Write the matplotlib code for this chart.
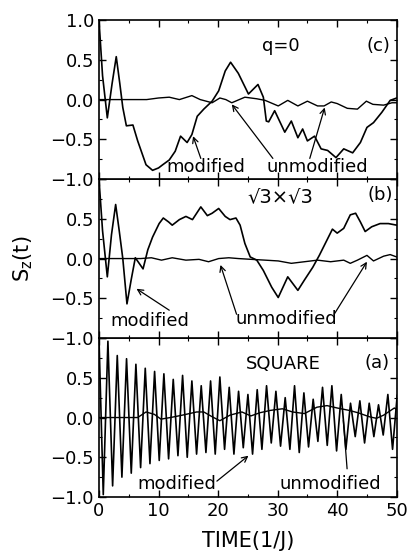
import matplotlib
matplotlib.use("Agg")
import matplotlib.pyplot as plt
from matplotlib.ticker import MultipleLocator, FuncFormatter

plt.rcParams["font.family"] = ["DejaVu Sans"]

# ---- panel (c): q=0 ----
c_mod_t = [0, 0.6, 1.4, 2.2, 2.9, 3.5, 4.0, 4.6, 5.7, 6.5, 7.9, 9.0, 10.0, 10.7,
           11.8, 12.8, 13.7, 14.8, 15.6, 16.5, 17.6, 19.0, 20.1, 21.2, 22.1, 23.4,
           25.1, 26.7, 27.6, 28.1, 28.5, 29.5, 31.2, 32.3, 33.4, 34.2, 35.0, 36.2,
           37.3, 38.4, 39.8, 41.1, 42.6, 43.9, 45.0, 46.1, 47.5, 48.9, 50.0]
c_mod_y = [1.0, 0.3, -0.23, 0.2, 0.54, 0.2, -0.1, -0.33, -0.32, -0.52, -0.82, -0.89,
           -0.86, -0.82, -0.76, -0.65, -0.46, -0.54, -0.44, -0.21, -0.12, -0.02, 0.11,
           0.36, 0.47, 0.33, 0.07, 0.19, 0.03, -0.27, -0.28, -0.14, -0.41, -0.27,
           -0.48, -0.37, -0.52, -0.46, -0.62, -0.64, -0.73, -0.62, -0.67, -0.54,
           -0.35, -0.29, -0.16, -0.01, 0.02]
c_unmod_t = [0, 8, 10, 11.8, 13.5, 15.6, 17, 19, 20.3, 21.3, 22.3, 24.5, 26.5, 27.9,
             30.1, 31.7, 33.4, 35.0, 36.7, 37.8, 39.0, 40.0, 41.7, 43.4, 44.9, 46.0,
             47.8, 49.2, 50]
c_unmod_y = [0, 0, 0.02, 0.03, 0.0, 0.05, 0.0, -0.04, 0.02, 0.0, -0.04, 0.03, 0.01,
             -0.01, -0.08, -0.01, -0.08, -0.02, -0.08, -0.08, -0.03, -0.05, -0.11,
             -0.12, -0.02, -0.06, -0.07, -0.04, -0.04]

# ---- panel (b): sqrt3 x sqrt3 ----
b_mod_t = [0, 0.6, 1.4, 2.1, 2.8, 3.4, 4.0, 4.7, 5.4, 6.1, 7.4, 8.2, 9.0, 10.1, 10.8,
           11.7, 12.3, 13.5, 14.6, 15.7, 17.1, 18.2, 19.0, 20.1, 21.2, 22.0, 23.0,
           23.7, 24.5, 25.4, 26.5, 27.6, 29.0, 30.1, 30.9, 31.7, 32.6, 33.4, 34.5,
           35.9, 37.0, 38.4, 39.2, 40.0, 41.1, 42.2, 43.1, 43.9, 44.7, 45.8, 47.2,
           48.6, 50.0]
b_mod_y = [1.0, 0.35, -0.23, 0.3, 0.68, 0.35, 0.0, -0.57, -0.27, 0.01, -0.13, 0.11,
           0.27, 0.44, 0.51, 0.46, 0.42, 0.49, 0.53, 0.49, 0.65, 0.54, 0.57, 0.63,
           0.53, 0.49, 0.51, 0.42, 0.19, 0.02, -0.02, -0.15, -0.36, -0.49, -0.36,
           -0.23, -0.32, -0.40, -0.27, -0.11, 0.04, 0.25, 0.37, 0.32, 0.38, 0.55,
           0.57, 0.46, 0.34, 0.40, 0.44, 0.44, 0.42]
b_unmod_t = [0, 7, 8.8, 10.5, 12.3, 14.6, 16.8, 18.4, 20.1, 21.8, 23.4, 25.6, 27.9,
             30.1, 32.3, 34.5, 36.7, 38.9, 41.1, 42.2, 43.4, 45.0, 46.1, 47.8, 48.9, 50]
b_unmod_y = [0, 0, 0.01, -0.02, 0.01, -0.02, -0.01, -0.04, 0.0, 0.01, 0.0, -0.01,
             -0.02, -0.03, -0.06, -0.04, -0.02, -0.04, -0.02, -0.06, -0.02, 0.04,
             -0.03, 0.03, 0.05, 0.02]

# ---- panel (a): square lattice ----
a_peak_t = [1.50, 3.07, 4.63, 6.20, 7.77, 9.34, 10.90, 12.47, 14.04, 15.60, 17.17,
            18.74, 20.30, 21.87, 23.44, 25.01, 26.57, 28.14, 29.71, 31.27, 32.84,
            34.41, 35.97, 37.54, 39.11, 40.68, 42.24, 43.81, 45.38, 46.94, 48.51, 50.08]
a_peak_y = [0.96, 0.78, 0.74, 0.67, 0.62, 0.58, 0.55, 0.48, 0.53, 0.46, 0.40, 0.46,
            0.51, 0.38, 0.33, 0.29, 0.35, 0.40, 0.33, 0.25, 0.40, 0.31, 0.23, 0.38,
            0.40, 0.29, 0.18, 0.21, 0.18, 0.16, 0.29, 0.28]
a_trough_t = [0.72, 2.29, 3.85, 5.42, 6.99, 8.56, 10.12, 11.69, 13.26, 14.82, 16.39,
              17.96, 19.52, 21.09, 22.66, 24.23, 25.79, 27.36, 28.93, 30.49, 32.06,
              33.63, 35.19, 36.76, 38.33, 39.90, 41.46, 43.03, 44.60, 46.16, 47.73, 49.30]
a_trough_y = [-0.97, -0.86, -0.75, -0.70, -0.63, -0.58, -0.54, -0.52, -0.48, -0.50,
              -0.46, -0.44, -0.46, -0.40, -0.46, -0.38, -0.46, -0.40, -0.32, -0.36,
              -0.40, -0.44, -0.37, -0.30, -0.35, -0.42, -0.40, -0.24, -0.32, -0.24,
              -0.22, -0.40]
a_unmod_t = [0, 6.5, 7.9, 9.3, 10.4, 12.0, 14.0, 16.4, 17.6, 19.0, 20.3, 22.0, 24.0,
             25.5, 27.0, 28.8, 30.8, 32.5, 34.5, 36.6, 38.3, 40.0, 42.0, 43.5, 45.4,
             46.6, 47.8, 49.6, 50]
a_unmod_y = [0, 0, 0.07, 0.04, -0.02, 0.0, 0.03, 0.07, 0.07, 0.01, -0.04, 0.03, 0.07,
             0.02, 0.06, 0.09, 0.11, 0.07, 0.05, 0.13, 0.15, 0.12, 0.09, 0.06, 0.01,
             -0.01, 0.03, 0.12, 0.10]

# merge peaks and troughs of the square-lattice curve in time order
a_mod = sorted([(0.0, 1.0)] + list(zip(a_peak_t, a_peak_y)) + list(zip(a_trough_t, a_trough_y)))
a_mod_t = [p[0] for p in a_mod]
a_mod_y = [p[1] for p in a_mod]

FS = 13
fig = plt.figure(figsize=(4.09, 5.52), dpi=100)
left, width = 0.242, 0.728
bottom, h = 0.0996, 0.288
ax_a = fig.add_axes([left, bottom, width, h])
ax_b = fig.add_axes([left, bottom + h, width, h])
ax_c = fig.add_axes([left, bottom + 2 * h, width, h])

panels = [
    (ax_c, c_mod_t, c_mod_y, c_unmod_t, c_unmod_y),
    (ax_b, b_mod_t, b_mod_y, b_unmod_t, b_unmod_y),
    (ax_a, a_mod_t, a_mod_y, a_unmod_t, a_unmod_y),
]


def ylab(v, pos):
    if abs(v - 1.0) < 1e-6:
        return ""
    return f"{v:.1f}".replace("-", "\u2212")


for ax, mt, my, ut, uy in panels:
    ax.plot(mt, my, color="black", lw=1.2, solid_joinstyle="round")
    ax.plot(ut, uy, color="black", lw=1.0)
    ax.set_xlim(0, 50)
    ax.set_ylim(-1.0, 1.0)
    ax.xaxis.set_major_locator(MultipleLocator(10))
    ax.xaxis.set_minor_locator(MultipleLocator(5))
    ax.yaxis.set_major_locator(MultipleLocator(0.5))
    ax.yaxis.set_minor_locator(MultipleLocator(0.25))
    ax.tick_params(which="both", direction="in", top=True, right=True, labelsize=FS)
    ax.tick_params(which="major", length=5, width=1.0)
    ax.tick_params(which="minor", length=2.5, width=0.8)
    for s in ax.spines.values():
        s.set_linewidth(1.2)
    if ax is not ax_a:
        ax.tick_params(labelbottom=False)
    if ax is not ax_c:
        ax.yaxis.set_major_formatter(FuncFormatter(ylab))

arrow = dict(arrowstyle="->", lw=0.9, color="black", shrinkA=0, shrinkB=0)

# panel (c)
ax_c.text(30.5, 0.68, "q=0", fontsize=FS, ha="center", va="center")
ax_c.text(47.0, 0.68, "(c)", fontsize=FS, ha="center", va="center")
ax_c.text(18.0, -0.85, "modified", fontsize=FS, ha="center", va="center")
ax_c.text(36.7, -0.85, "unmodified", fontsize=FS, ha="center", va="center")
ax_c.annotate("", xy=(15.8, -0.46), xytext=(17.1, -0.74), arrowprops=arrow)
ax_c.annotate("", xy=(22.3, -0.06), xytext=(29.2, -0.74), arrowprops=arrow)
ax_c.annotate("", xy=(37.9, -0.10), xytext=(35.4, -0.74), arrowprops=arrow)

# panel (b)
ax_b.text(30.5, 0.78, "\u221a3\u00d7\u221a3", fontsize=FS + 1, ha="center", va="center")
ax_b.text(47.2, 0.80, "(b)", fontsize=FS, ha="center", va="center")
ax_b.text(8.5, -0.78, "modified", fontsize=FS, ha="center", va="center")
ax_b.text(31.5, -0.76, "unmodified", fontsize=FS, ha="center", va="center")
ax_b.annotate("", xy=(6.3, -0.38), xytext=(11.8, -0.65), arrowprops=arrow)
ax_b.annotate("", xy=(20.4, -0.08), xytext=(23.1, -0.70), arrowprops=arrow)
ax_b.annotate("", xy=(45.0, -0.04), xytext=(39.5, -0.70), arrowprops=arrow)
ax_b.set_ylabel(r"$\mathregular{S_z(t)}$", fontsize=FS + 2, labelpad=11)

# panel (a)
ax_a.text(30.9, 0.67, "SQUARE", fontsize=FS, ha="center", va="center")
ax_a.text(46.7, 0.69, "(a)", fontsize=FS, ha="center", va="center")
ax_a.text(13.0, -0.84, "modified", fontsize=FS, ha="center", va="center")
ax_a.text(38.9, -0.84, "unmodified", fontsize=FS, ha="center", va="center")
ax_a.annotate("", xy=(25.1, -0.48), xytext=(19.8, -0.80), arrowprops=arrow)
ax_a.annotate("", xy=(41.0, 0.0), xytext=(41.7, -0.68), arrowprops=dict(arrowstyle="-", lw=0.9, color="black"))
ax_a.set_xlabel("TIME(1/J)", fontsize=FS + 2, labelpad=8)

fig.savefig("out.png", dpi=100)
